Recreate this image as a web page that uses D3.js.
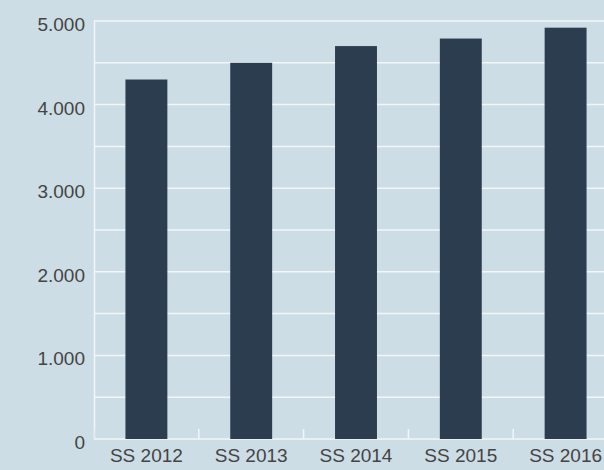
<!DOCTYPE html>
<html>
<head>
<meta charset="utf-8">
<script src="https://cdn.jsdelivr.net/npm/d3@7"></script>
<style>
	body { margin: 0; background: #cddde5; }
	svg { display: block; }
	.label { font-family: 'Liberation Sans', Arial, sans-serif; font-size: 19px; fill: #444; }
</style>
</head>
<body>
<script>
// chart params
const svgW = 604;
const svgH = 470;
const plotLeft = 94;
const plotTop = 21;
const base = 439;

const semesters = [ 'SS 2012', 'SS 2013', 'SS 2014', 'SS 2015', 'SS 2016' ];
const counts = [ 4300, 4500, 4700, 4790, 4920 ];
const yTicks = [ 0, 1000, 2000, 3000, 4000, 5000 ];
const gridValues = [ 500, 1000, 1500, 2000, 2500, 3000, 3500, 4000, 4500, 5000 ];

const fmt = (v) => d3.format(',')(v).replace(/,/g, '.');

const svg = d3.select('body').append('svg').attr('width', svgW).attr('height', svgH);

const x = d3.scaleBand().domain(semesters).range([ plotLeft, plotLeft + 5 * 104.8 ]).paddingInner(0.6).paddingOuter(0.3);
const y = d3.scaleLinear().domain([ 0, 5000 ]).range([ base, plotTop ]);

// grid
svg
	.selectAll('.grid')
	.data(gridValues)
	.enter()
	.append('line')
	.attr('x1', plotLeft)
	.attr('x2', svgW)
	.attr('y1', (d) => y(d))
	.attr('y2', (d) => y(d))
	.attr('stroke', '#f2f6f8')
	.attr('stroke-width', 1.5);

// axes lines
svg.append('line').attr('x1', plotLeft + 0.5).attr('x2', plotLeft + 0.5).attr('y1', plotTop).attr('y2', base).attr('stroke', '#f2f6f8').attr('stroke-width', 1.5);
svg.append('line').attr('x1', plotLeft).attr('x2', svgW).attr('y1', base).attr('y2', base).attr('stroke', '#f2f6f8').attr('stroke-width', 1.5);

// category ticks
const step = x.step();
svg
	.selectAll('.xtick')
	.data(semesters)
	.enter()
	.append('line')
	.attr('x1', (d) => x(d) - step * 0.3)
	.attr('x2', (d) => x(d) - step * 0.3)
	.attr('y1', base - 10)
	.attr('y2', base)
	.attr('stroke', (d, i) => (i ? '#f2f6f8' : '#dfe6ea'))
	.attr('stroke-width', 1.5);

// bars
svg
	.selectAll('.bar')
	.data(counts)
	.enter()
	.append('rect')
	.attr('x', (d, i) => x(semesters[i]))
	.attr('width', x.bandwidth())
	.attr('y', (d) => y(d))
	.attr('height', (d) => base - y(d))
	.attr('fill', '#2b3d4f');

// y labels
svg
	.selectAll('.ylab')
	.data(yTicks)
	.enter()
	.append('text')
	.attr('class', 'label')
	.attr('x', 85)
	.attr('y', (d) => y(d) + 10)
	.attr('text-anchor', 'end')
	.text(fmt);

// x labels
svg
	.selectAll('.xlab')
	.data(semesters)
	.enter()
	.append('text')
	.attr('class', 'label')
	.attr('x', (d) => x(d) + x.bandwidth() / 2)
	.attr('y', 462)
	.attr('text-anchor', 'middle')
	.text((d) => d);
</script>
</body>
</html>
